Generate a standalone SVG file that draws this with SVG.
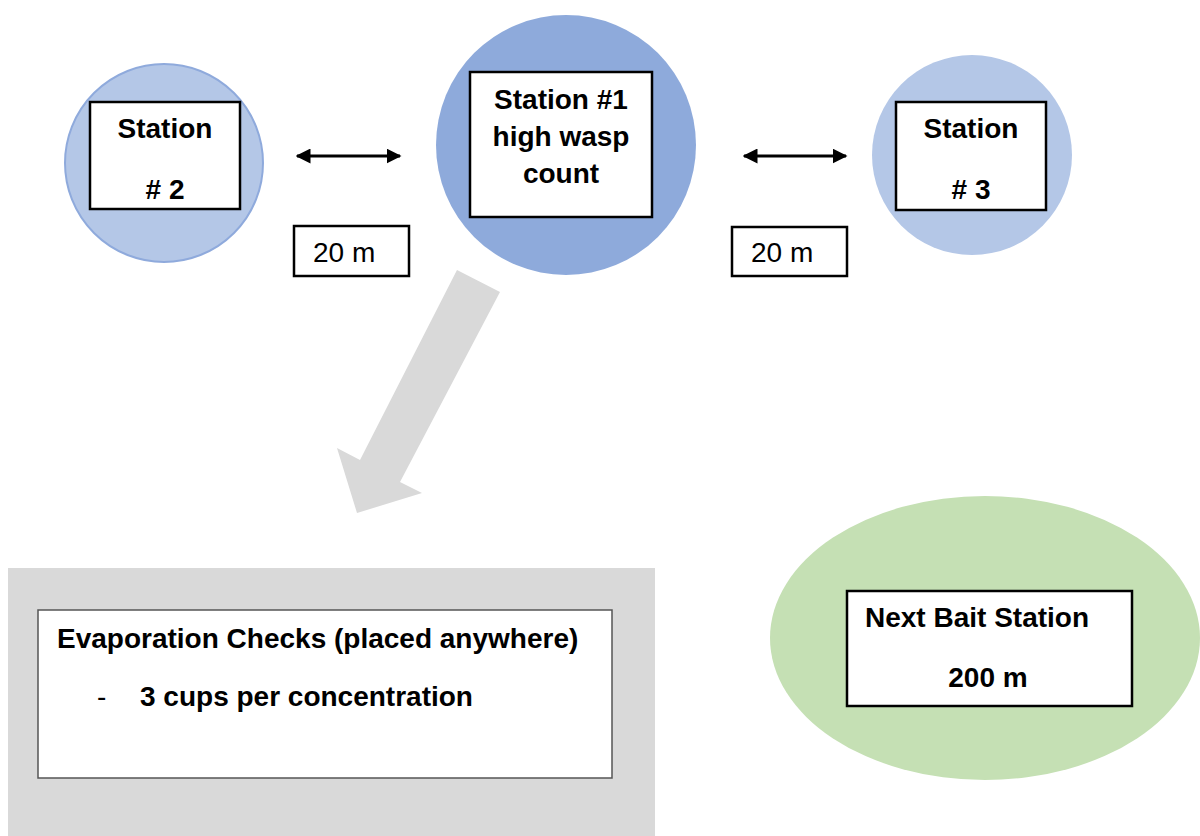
<svg xmlns="http://www.w3.org/2000/svg" width="1200" height="836" viewBox="0 0 1200 836">
  <defs>
    <marker id="head" viewBox="0 0 10 10" refX="9" refY="5" markerWidth="5" markerHeight="5" orient="auto-start-reverse" markerUnits="strokeWidth">
      <path d="M0,0 L10,5 L0,10 Z" fill="#000"/>
    </marker>
  </defs>
  <style>
    .lbl { font-family: "Liberation Sans", Arial, sans-serif; font-size: 28px; fill: #000; }
    .b { font-weight: bold; }
    .box { fill: #fff; stroke: #000; stroke-width: 2.5; }
    .thin { fill: #fff; stroke: #555; stroke-width: 1.5; }
    .light { fill: #b4c7e7; }
    .edged { stroke: #8faadc; stroke-width: 2; }
    .dark { fill: #8eaadb; }
    .link { stroke: #000; stroke-width: 3; fill: none; marker-start: url(#head); marker-end: url(#head); }
  </style>
  <rect width="1200" height="836" fill="#fff"/>

  <!-- Station #2 -->
  <g id="station2">
    <circle class="light edged" cx="164" cy="163" r="99"/>
    <rect class="box" x="90" y="102" width="150" height="107"/>
    <text class="lbl b" x="165" y="138" text-anchor="middle">Station</text>
    <text class="lbl b" x="165" y="199" text-anchor="middle"># 2</text>
  </g>

  <!-- Station #1 -->
  <g id="station1">
    <circle class="dark" cx="566" cy="145" r="130"/>
    <rect class="box" x="470" y="72" width="182" height="145"/>
    <text class="lbl b" x="561" y="109" text-anchor="middle">Station #1</text>
    <text class="lbl b" x="561" y="146" text-anchor="middle">high wasp</text>
    <text class="lbl b" x="561" y="183" text-anchor="middle">count</text>
  </g>

  <!-- Station #3 -->
  <g id="station3">
    <circle class="light" cx="972" cy="155" r="100"/>
    <rect class="box" x="896" y="102" width="150" height="108"/>
    <text class="lbl b" x="971" y="138" text-anchor="middle">Station</text>
    <text class="lbl b" x="971" y="199" text-anchor="middle"># 3</text>
  </g>

  <!-- distance labels -->
  <g id="dist-left">
    <rect class="box" x="294" y="226" width="115" height="50"/>
    <text class="lbl" x="313" y="262">20 m</text>
  </g>
  <g id="dist-right">
    <rect class="box" x="732" y="227" width="115" height="49"/>
    <text class="lbl" x="751" y="262">20 m</text>
  </g>

  <!-- Evaporation checks panel -->
  <g id="evaporation">
    <rect x="8" y="568" width="647" height="268" fill="#d9d9d9"/>
    <rect class="thin" x="38" y="610" width="574" height="168"/>
    <text class="lbl b" x="57" y="648">Evaporation Checks (placed anywhere)</text>
    <text class="lbl" x="97" y="706">-</text>
    <text class="lbl b" x="140" y="706">3 cups per concentration</text>
  </g>

  <!-- Next bait station -->
  <g id="next-station">
    <ellipse cx="985" cy="638" rx="215" ry="142" fill="#c5e0b4"/>
    <rect class="box" x="847" y="591" width="285" height="115"/>
    <text class="lbl b" x="865" y="627">Next Bait Station</text>
    <text class="lbl b" x="988" y="687" text-anchor="middle">200 m</text>
  </g>

  <!-- connectors -->
  <g id="connectors">
    <line class="link" x1="297" y1="156" x2="400" y2="156"/>
    <line class="link" x1="744" y1="156" x2="846" y2="156"/>
    <polygon points="457,270 500,292 400,482 422,493 357,513 337,448 360,460" fill="#d9d9d9"/>
  </g>
</svg>
